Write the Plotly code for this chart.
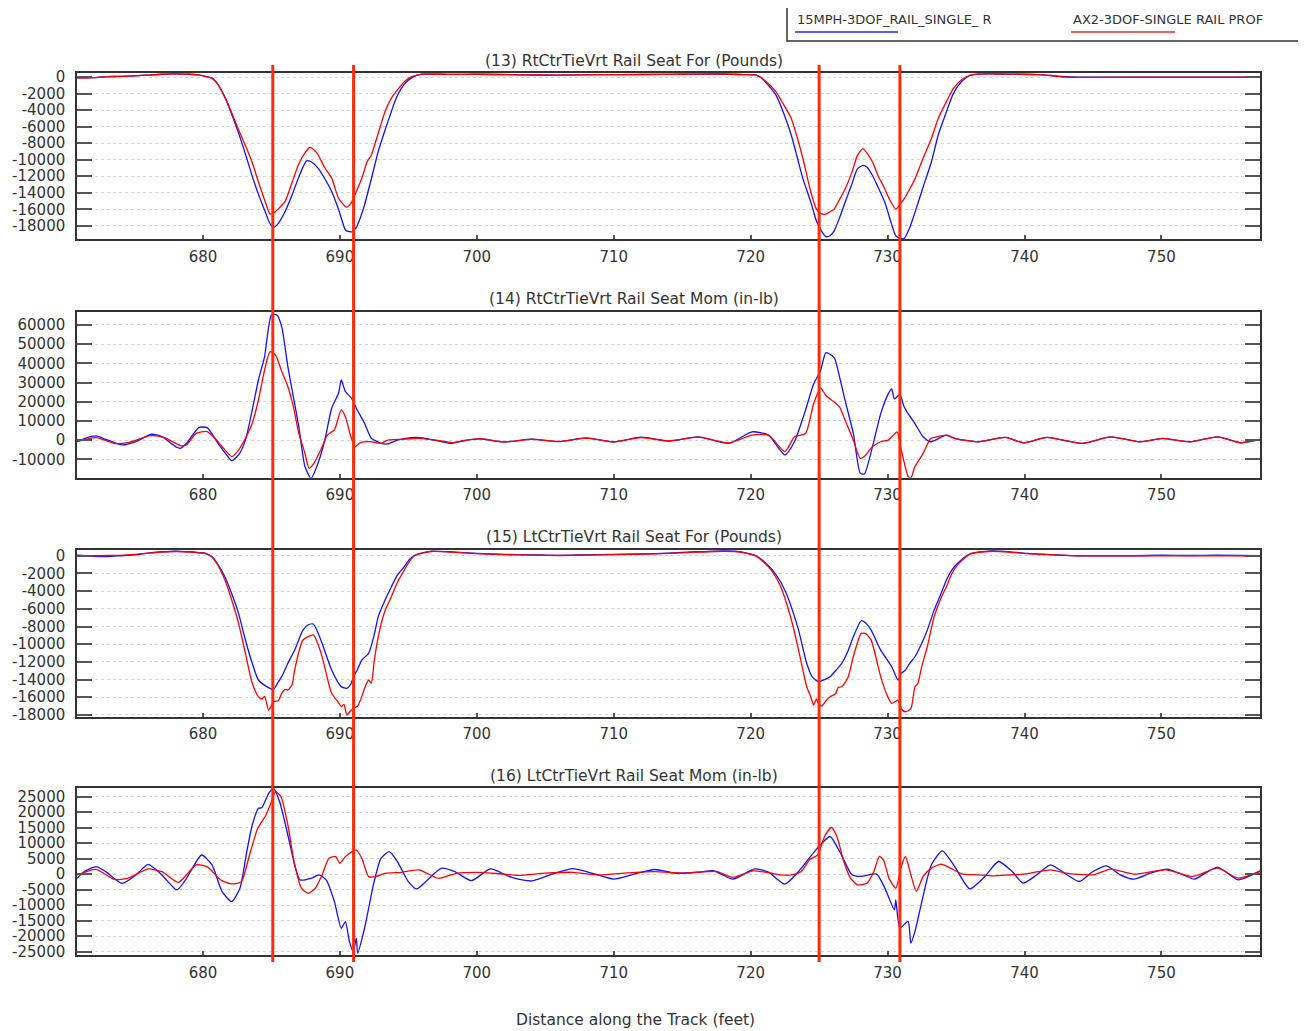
import plotly.graph_objects as go

# ---------------- data ----------------
series_names = ["15MPH-3DOF_RAIL_SINGLE_ R", "AX2-3DOF-SINGLE RAIL PROF"]
panel_titles = [
    "(13) RtCtrTieVrt Rail Seat For (Pounds)",
    "(14) RtCtrTieVrt Rail Seat Mom (in-lb)",
    "(15) LtCtrTieVrt Rail Seat For (Pounds)",
    "(16) LtCtrTieVrt Rail Seat Mom (in-lb)",
]
x_title = "Distance along the Track (feet)"
marker_positions = [685.1, 691.0, 725.0, 730.9]

# Panel 1 : RtCtrTieVrt Rail Seat For
p1_blue_x = [670.8, 672, 673, 674, 675, 676, 677, 678, 679, 679.7, 680.2, 680.66, 681.1, 681.63, 682.1, 682.6,
             683.1, 683.57, 684.05, 684.54, 684.85, 685.15, 685.5, 686.0, 686.5, 686.97, 687.3, 687.57, 687.9,
             688.4, 688.9, 689.4, 689.9, 690.4, 690.6, 690.9, 691.2, 691.5, 691.8, 692.3, 692.8, 693.3, 693.76,
             694.1, 694.5, 694.85, 695.2, 695.6, 696, 698, 700, 703, 706, 709, 712, 715, 718, 719.5, 720.4,
             720.8, 721.3, 721.84, 722.4, 722.97, 723.4, 723.82, 724.4, 724.8, 725.2, 725.5, 725.8, 726.1,
             726.5, 726.9, 727.4, 727.8, 728.2, 728.5, 728.9, 729.3, 729.8, 730.2, 730.6, 730.9, 731.2, 731.6,
             732.0, 732.6, 733.2, 733.7, 734.3, 734.8, 735.4, 736.0, 736.6, 738, 739.7, 741, 743, 744, 750, 757.2]
p1_blue_y = [-100, -50, 50, 100, 150, 250, 350, 400, 350, 280, 80, -120, -900, -2540, -4500, -6780,
             -9300, -11830, -14200, -16260, -17600, -18200, -17700, -16260, -14300, -12230, -10900, -10130, -10250,
             -11020, -12300, -13840, -16000, -18480, -18690, -18700, -18200, -17000, -15460, -12300, -9000, -6400, -4160,
             -2600, -1330, -600, -120, 200, 360, 330, 350, 280, 250, 300, 320, 350, 380, 300, 250,
             -100, -1000, -2150, -4300, -7030, -9700, -12320, -15160, -17400, -18700, -19310, -19200, -18620,
             -17000, -15160, -12900, -11100, -10690, -10900, -11910, -13300, -15160, -17300, -19230, -19500, -19550, -18300,
             -16380, -13300, -10280, -7000, -4190, -2000, -530, 200, 370, 380, 350, 300, 50, 0, 0, 0]
p1_red_x = [670.8, 672, 673, 674, 675, 676, 677, 678, 679, 679.7, 680.2, 680.66, 681.1, 681.63, 682.1, 682.6,
            683.1, 683.57, 684.05, 684.54, 684.9, 685.2, 685.6, 686.0, 686.5, 686.97, 687.4, 687.8, 688.1, 688.4,
            688.9, 689.4, 689.9, 690.5, 690.8, 691.1, 691.6, 692.0, 692.3, 692.8, 693.3, 693.76, 694.3, 694.8,
            695.3, 696, 698, 700, 703, 706, 709, 712, 715, 718, 719.5, 720.4, 720.8, 721.3, 721.84, 722.4,
            722.97, 723.4, 723.82, 724.4, 724.8, 725.1, 725.5, 725.8, 726.1, 726.5, 726.9, 727.4, 727.8, 728.2,
            728.5, 728.9, 729.3, 729.8, 730.2, 730.6, 730.9, 731.2, 731.6, 732.0, 732.6, 733.2, 733.7, 734.3,
            734.8, 735.4, 736.0, 736.6, 738, 739.7, 741, 742, 743, 750, 757.2]
p1_red_y = [-100, -50, 50, 100, 150, 250, 350, 400, 350, 280, 80, -120, -900, -2540, -4300, -6380,
            -8300, -10210, -12700, -15050, -16590, -16400, -15800, -15050, -12800, -10610, -9300, -8520, -8800, -9400,
            -11000, -12230, -14670, -15760, -15300, -14230, -12240, -10200, -9420, -6800, -4170, -2540, -1330, -400,
            80, 360, 330, 350, 280, 250, 300, 320, 350, 380, 300, 250, -100, -800, -1750, -3300,
            -5000, -7300, -9880, -13940, -15980, -16500, -16590, -16300, -15980, -14800, -13540, -11500, -9470, -8660,
            -9200, -10280, -11900, -13540, -15000, -15980, -15400, -14760, -13600, -12320, -9800, -7440, -5000, -2970,
            -1400, -330, 200, 370, 380, 350, 300, 200, 0, 0, 0]

# Panel 2 : RtCtrTieVrt Rail Seat Mom
p2_blue_x = [670.8, 671.4, 672.2, 672.9, 674.1, 675.1, 676.2, 677.0, 678.0, 678.35, 678.8, 679.7, 680.3, 681.1,
             681.6, 682.1, 682.6, 683.1, 683.6, 684.05, 684.5, 685.0, 685.4, 685.75, 686.2, 686.6, 687.0, 687.45,
             687.9, 688.4, 688.9, 689.4, 689.9, 690.1, 690.4, 690.85, 691.2, 691.8, 692.3, 693.0, 693.5, 694.2,
             695.2, 695.9, 697.4, 698.1, 699.1, 700.1, 702, 704, 706, 708, 710, 712, 714, 716.2, 718.4, 720.1,
             721.3, 722.5, 723.2, 724.0, 724.6, 725.1, 725.5, 726.1, 726.5, 726.9, 727.5, 728.0, 728.3, 728.9,
             729.5, 730.05, 730.3, 730.5, 730.9, 731.2, 731.5, 732.0, 732.6, 733.15, 734.3, 734.9, 736.6, 738.6,
             739.95, 741.65, 744.2, 746.3, 748.4, 750.1, 752.1, 754.1, 755.8, 757.2]
p2_blue_y = [-800, 940, 2150, 400, -2540, -800, 3020, 1800, -3400, -4270, -1670, 6500, 6500, -1670,
             -6500, -10700, -7750, 0, 15700, 31300, 43500, 65200, 65200, 59100, 38250, 22600, 7000, -13800,
             -19900, -12100, 0, 16600, 24400, 31300, 25300, 21800, 16600, 8800, 940, -1670, -2000, 0,
             1300, 1300, -800, -1670, -350, 600, -1000, 500, -800, 1200, -1000, 1500, -500, 1700, -1700, 4300,
             2600, -7700, -860, 15500, 29200, 36100, 45600, 43000, 32700, 20600, 3400, -17200, -17700, -3400,
             13800, 24100, 26700, 21500, 23700, 17500, 13800, 8600, 1700, -860, 2600, 860, -860, 1400,
             -1400, 1400, -1700, 1700, -860, 860, -860, 1700, -1400, 340]
p2_red_x = [670.8, 672.2, 673.5, 674.5, 676.2, 677.2, 678.4, 678.8, 679.5, 680.3, 681.0, 682.1, 682.6, 683.1,
            683.6, 684.05, 684.5, 684.9, 685.3, 685.8, 686.2, 686.6, 687.0, 687.45, 687.75, 688.1, 688.6, 689.1,
            689.6, 690.1, 690.4, 690.8, 691.1, 691.5, 692.2, 693.0, 693.5, 694.5, 695.8, 697.5, 698.3, 699.2,
            700.4, 702, 704, 706, 708, 710, 712, 714, 716.2, 718.4, 720.1, 721.3, 722.5, 723.2, 724.0, 724.6,
            725.1, 725.5, 726.1, 726.5, 726.9, 727.5, 728.0, 728.3, 728.9, 729.5, 730.05, 730.3, 730.7, 730.9,
            731.5, 731.7, 732.0, 732.6, 733.15, 733.6, 734.3, 734.9, 736.6, 738.6, 739.95, 741.65, 744.2, 746.3,
            748.4, 750.1, 752.1, 754.1, 755.8, 757.2]
p2_red_y = [-800, 1300, -1670, -1300, 2300, 1300, -3000, -2500, 3500, 4400, 0, -8600, -5200, 940,
            8800, 20900, 36500, 46100, 44300, 34800, 27900, 17400, 3500, -6900, -14700, -12100, -5200, 2700,
            5300, 15700, 12200, 1800, -3400, -1300, -800, -1670, 0, 400, 940, -500, -1300, 0,
            600, -900, 400, -700, 1000, -900, 1300, -400, 1500, -1500, 2600, 2600, -6000, 1700, 3400, 18900,
            27200, 23200, 19800, 17200, 10300, 0, -9500, -8600, -3400, -860, 0, 1700, 4300, -1700,
            -18900, -19800, -13800, -6900, 860, 1700, 2600, 860, -860, 1400, -1400, 1400, -1700, 1700,
            -860, 860, -860, 1700, -1400, 340]

# Panel 3 : LtCtrTieVrt Rail Seat For
p3_blue_x = [670.8, 672, 673, 674, 675, 676, 677, 678, 679, 679.7, 680.2, 680.66, 681.1, 681.6, 682.1, 682.6,
             683.1, 683.6, 684.05, 684.66, 685.15, 685.45, 685.75, 686.2, 686.7, 687.3, 687.7, 688.06, 688.4,
             688.7, 689.4, 690.1, 690.5, 690.8, 691.0, 691.3, 691.6, 692.1, 692.5, 692.8, 693.3, 693.76, 694.2,
             694.7, 695.1, 695.5, 696.1, 696.7, 698, 700, 702, 704, 706, 708, 710, 712, 714, 716, 717.5, 719,
             719.7, 720.4, 721.0, 721.6, 722.2, 722.7, 723.1, 723.5, 724.1, 724.5, 724.95, 725.4, 725.8, 726.2,
             726.65, 727.1, 727.5, 728.07, 728.4, 728.8, 729.5, 730.3, 730.76, 731.0, 731.3, 731.6, 732.0, 732.5,
             732.9, 733.4, 733.9, 734.3, 734.7, 735.1, 736.0, 737.4, 738.5, 740.2, 742, 743.9, 748, 750, 752,
             754, 757.2]
p3_blue_y = [75, -60, -100, 0, 100, 300, 450, 530, 450, 350, 260, -110, -1000, -2370, -4300, -6510,
             -9530, -12160, -14050, -14800, -15100, -14400, -13670, -12160, -10660, -8400, -7800, -7720, -8700,
             -9900, -12920, -14800, -14990, -14500, -13670, -12800, -11790, -11030, -9000, -6890, -5000, -3500, -2200,
             -1240, -400, 75, 350, 530, 450, 260, 150, 100, 50, 100, 150, 200, 300, 450, 530, 500,
             300, 0, -700, -1620, -3000, -4640, -6400, -8410, -12180, -13690, -14250, -14000, -13690, -13000,
             -12180, -10800, -9160, -7350, -7600, -8410, -10670, -12550, -14060, -13300, -12930, -12200, -11420, -9900,
             -8410, -6150, -4300, -2750, -1600, -870, 190, 530, 500, 260, 120, 0, 0, 60, 30,
             60, 0]
p3_red_x = [670.8, 672, 673, 674, 675, 676, 677, 678, 679, 679.7, 680.2, 680.66, 681.1, 681.6, 682.1, 682.6,
            683.1, 683.6, 684.05, 684.3, 684.5, 684.8, 685.15, 685.5, 685.75, 686.0, 686.2, 686.5, 686.7, 687.3,
            688.06, 688.4, 688.7, 689.4, 689.9, 690.1, 690.3, 690.5, 690.8, 691.0, 691.3, 691.6, 691.8, 692.1,
            692.3, 692.5, 692.8, 693.3, 693.76, 694.2, 694.7, 695.1, 695.5, 696.1, 696.7, 698, 700, 702, 704,
            706, 708, 710, 712, 714, 716, 717.5, 719, 719.7, 720.4, 721.0, 721.6, 722.2, 722.7, 723.1, 723.5,
            724.1, 724.4, 724.6, 724.8, 724.95, 725.2, 725.5, 725.8, 726.2, 726.4, 726.65, 727.1, 727.5, 728.07,
            728.4, 728.8, 729.5, 730.0, 730.3, 730.76, 731.0, 731.3, 731.7, 732.0, 732.2, 732.5, 732.9, 733.4,
            733.9, 734.3, 734.7, 735.1, 736.0, 737.4, 738.5, 740.2, 742, 743.9, 757.2]
p3_red_y = [30, 0, 30, 50, 150, 300, 420, 480, 420, 330, 240, -150, -1100, -2750, -5000, -7640,
            -11030, -14420, -15930, -16200, -15900, -17440, -16500, -16400, -15550, -15100, -15180, -14600, -12920, -9530,
            -8960, -10000, -11410, -15550, -16600, -17060, -16800, -18000, -17500, -17250, -17000, -15930, -15000, -14050,
            -14400, -12000, -9150, -6200, -4630, -3000, -1620, -600, 50, 330, 480, 420, 240, 120, 80,
            30, 80, 120, 180, 260, 400, 480, 450, 280, -50, -800, -1810, -3500, -5770, -8000, -10670,
            -14820, -16000, -16900, -16200, -16700, -17000, -16400, -15950, -15600, -14900, -14820, -13800, -11420, -8780,
            -8800, -9540, -13690, -15900, -16700, -16320, -17300, -17640, -17300, -14820, -14500, -12500, -10290, -6900,
            -4800, -3500, -2000, -1060, 190, 480, 450, 240, 100, 0, 0]

# Panel 4 : LtCtrTieVrt Rail Seat Mom
p4_blue_x = [670.8, 671.4, 672.2, 672.9, 674.1, 675.1, 676.0, 677.0, 678.1, 678.8, 679.9, 680.66, 681.4, 682.1,
             682.7, 683.2, 683.6, 684.05, 684.3, 684.8, 685.15, 685.6, 686.2, 686.7, 687.1, 687.9, 688.5, 689.0,
             689.6, 690.1, 690.4, 690.7, 690.97, 691.2, 691.3, 691.8, 692.5, 693.0, 693.6, 694.2, 695.0, 695.6,
             696.4, 697.4, 698.4, 699.6, 701.0, 702.5, 704.0, 705.5, 707.0, 708.5, 710.0, 711.5, 713.0, 714.5,
             716.2, 717.3, 718.7, 720.3, 721.3, 722.5, 723.5, 724.7, 725.2, 725.8, 726.5, 727.4, 728.05, 729.2,
             729.8, 730.5, 730.6, 730.9, 731.5, 731.7, 732.0, 732.45, 733.2, 734.0, 734.9, 736.0, 737.1, 738.1,
             739.1, 739.9, 740.9, 741.9, 743.1, 744.0, 745.0, 746.0, 747.0, 748.0, 749.2, 750.4, 751.6, 752.4,
             754.1, 755.6, 757.2]
p4_blue_y = [-1340, 1020, 2420, 800, -2960, -270, 3170, -270, -5100, -1340, 6180, 2960, -5640, -8870,
             -4570, 7260, 15860, 21230, 21450, 26060, 27680, 23380, 12630, 2960, -1880, -1340, -270, -1880,
             -8870, -17470, -15320, -21770, -25000, -20700, -25530, -17470, -2420, 5110, 7260, 4030, -2420, -4780,
             -1880, 1880, 800, -2100, 1670, -1000, -2200, 0, 1800, 200, -1600, 0, 1500, 300,
             640, 1070, -1610, 1720, 640, -3220, 860, 7520, 10000, 12150, 7310, -210, -750, 0,
             -4510, -11500, -8280, -17400, -15260, -22250, -18490, -9890, 3010, 7520, 2470, -4730, -750, 4080,
             860, -2900, -210, 3010, -210, -2370, 860, 2690, -210, -1610, 320, 1610, -210, -1610,
             2260, -1830, 1070]
p4_red_x = [670.8, 672.2, 673.5, 674.5, 676.0, 677.0, 678.2, 679.5, 680.3, 681.3, 682.1, 682.8, 683.4, 684.0,
            684.6, 685.0, 685.3, 685.7, 686.2, 686.7, 687.2, 687.7, 688.2, 688.7, 689.2, 689.7, 690.0, 690.4,
            690.8, 691.2, 691.6, 692.1, 692.6, 693.3, 694.5, 695.8, 697.2, 698.5, 700.0, 701.5, 703, 705, 707,
            709, 711, 713, 715, 716.2, 717.5, 718.7, 720.2, 721.5, 722.2, 723.0, 723.7, 724.3, 724.9, 725.4,
            725.9, 726.3, 726.8, 727.3, 727.8, 728.5, 729.0, 729.4, 729.7, 730.1, 730.6, 731.0, 731.3, 731.7,
            732.1, 732.6, 733.2, 733.9, 734.6, 735.4, 736.6, 737.7, 739.0, 740.0, 741.9, 743.0, 745.0, 746.3,
            748.0, 750.3, 752.3, 754.1, 755.6, 757.2]
p4_red_y = [-270, 1560, -1670, -1340, 1670, 800, -2630, 2960, 2420, -1880, -3170, -2420, 6180, 14780,
            19080, 23380, 26600, 24990, 15860, 2960, -4570, -6180, -4570, -270, 5110, 5640, 3490, 5640,
            7040, 7790, 5110, -810, -810, 270, 590, 1340, -1340, 270, 590, 200, -400, 300, 600,
            -300, 400, 800, 300, 640, 860, -1070, 1070, 320, -210, -210, 860, 4620, 6230, 12150,
            15050, 12150, 4080, -1290, -3440, -2900, 860, 5700, 4620, -1290, -4510, 2470, 5700, -210,
            -5590, -750, 1930, 3220, 1930, 110, -210, -540, -210, 0, 1400, 320, -210, 1610,
            0, 1400, -750, 1930, -1290, 860]

# axes
x_range = [670.8, 757.2]
x_ticks = [680, 690, 700, 710, 720, 730, 740, 750]
p1_yticks = [0, -2000, -4000, -6000, -8000, -10000, -12000, -14000, -16000, -18000]
p2_yticks = [60000, 50000, 40000, 30000, 20000, 10000, 0, -10000]
p3_yticks = [0, -2000, -4000, -6000, -8000, -10000, -12000, -14000, -16000, -18000]
p4_yticks = [25000, 20000, 15000, 10000, 5000, 0, -5000, -10000, -15000, -20000, -25000]
y_ranges = [[-19600, 500], [-19600, 66900], [-18200, 650], [-26100, 27900]]
y_tickvals = [p1_yticks, p2_yticks, p3_yticks, p4_yticks]

panels = [
    (p1_blue_x, p1_blue_y, p1_red_x, p1_red_y),
    (p2_blue_x, p2_blue_y, p2_red_x, p2_red_y),
    (p3_blue_x, p3_blue_y, p3_red_x, p3_red_y),
    (p4_blue_x, p4_blue_y, p4_red_x, p4_red_y),
]

# ---------------- layout geometry (pixels in the 1306x1031 window) ----------------
OFF = 8                      # default page body margin around the plot div
W, H = 1306 - OFF, 1031 - OFF
ML = 77 - OFF
MR = (W + OFF) - 1260
PW = W - ML - MR
panel_px = [(73, 239), (311.7, 477.7), (550, 716.7), (787.7, 955)]
title_py = [61, 299, 537, 776]


def py2paper(py):
    return 1 - (py - OFF) / H


def px2paper(px):
    return (px - OFF - ML) / PW


BLUE = "#1010ff"
RED = "#ff0000"
FONT = "DejaVu Sans"
TXT = "#333333"

fig = go.Figure()
layout = dict(
    width=W, height=H,
    margin=dict(l=ML, r=MR, t=0, b=0, autoexpand=False),
    paper_bgcolor="white", plot_bgcolor="white",
    showlegend=False,
    font=dict(family=FONT, size=15, color=TXT),
)
annotations = []
shapes = []

for i, (bx, by, rx, ry) in enumerate(panels):
    n = i + 1
    xa = "x" if n == 1 else f"x{n}"
    ya = "y" if n == 1 else f"y{n}"
    fig.add_trace(go.Scatter(x=bx, y=by, mode="lines", xaxis=xa, yaxis=ya, name=series_names[0],
                             line=dict(color=BLUE, width=1.3, shape="spline", smoothing=0.6)))
    fig.add_trace(go.Scatter(x=rx, y=ry, mode="lines", xaxis=xa, yaxis=ya, name=series_names[1],
                             line=dict(color=RED, width=1.3, shape="spline", smoothing=0.6)))
    top, bot = panel_px[i]
    layout["xaxis" if n == 1 else f"xaxis{n}"] = dict(
        domain=[0, 1], anchor=ya, range=x_range, tickvals=x_ticks,
        ticks="inside", ticklen=4, tickwidth=2, tickcolor="#555555",
        showline=True, linecolor="#333333", linewidth=1.5, mirror=True,
        showgrid=False, zeroline=False, ticklabelstandoff=3,
        tickfont=dict(family=FONT, size=15, color=TXT),
    )
    layout["yaxis" if n == 1 else f"yaxis{n}"] = dict(
        domain=[py2paper(bot), py2paper(top)], anchor=xa, range=y_ranges[i],
        tickvals=y_tickvals[i], ticktext=[str(v) for v in y_tickvals[i]],
        ticks="inside", ticklen=15, tickwidth=2, tickcolor="#555555",
        showline=True, linecolor="#333333", linewidth=1.5, mirror="ticks",
        showgrid=True, gridcolor="#d4d4d4", griddash="dot", gridwidth=1,
        zeroline=False, ticklabelstandoff=7,
        tickfont=dict(family=FONT, size=15, color=TXT),
    )
    annotations.append(dict(
        text=panel_titles[i], xref="paper", yref="paper",
        x=px2paper(634), y=py2paper(title_py[i]), xanchor="center", yanchor="middle",
        showarrow=False, font=dict(family=FONT, size=15.5, color=TXT),
    ))

# axis title
annotations.append(dict(
    text=x_title, xref="paper", yref="paper", x=px2paper(635), y=py2paper(1020),
    xanchor="center", yanchor="middle", showarrow=False,
    font=dict(family=FONT, size=15.5, color=TXT),
))

# vertical marker lines
for xv in marker_positions:
    shapes.append(dict(type="line", xref="x", yref="paper", x0=xv, x1=xv,
                       y0=py2paper(962), y1=py2paper(65),
                       line=dict(color="#ff2a0a", width=3), layer="above"))

# legend box
shapes.append(dict(type="rect", xref="paper", yref="paper",
                   x0=px2paper(787), x1=px2paper(1320), y0=py2paper(41), y1=py2paper(7),
                   line=dict(color="#333333", width=1.5), fillcolor="white", layer="above"))
leg_items = [(795, 898, "#5a5aff", series_names[0]), (1071, 1175, "#f06060", series_names[1])]
for x0, x1, col, name in leg_items:
    shapes.append(dict(type="line", xref="paper", yref="paper",
                       x0=px2paper(x0), x1=px2paper(x1), y0=py2paper(32), y1=py2paper(32),
                       line=dict(color=col, width=2), layer="above"))
    annotations.append(dict(text=name, xref="paper", yref="paper",
                            x=px2paper(x0), y=py2paper(20), xanchor="left", yanchor="middle",
                            showarrow=False, font=dict(family=FONT, size=13, color=TXT)))

layout["annotations"] = annotations
layout["shapes"] = shapes
fig.update_layout(**layout)
fig.write_html("out.html")
